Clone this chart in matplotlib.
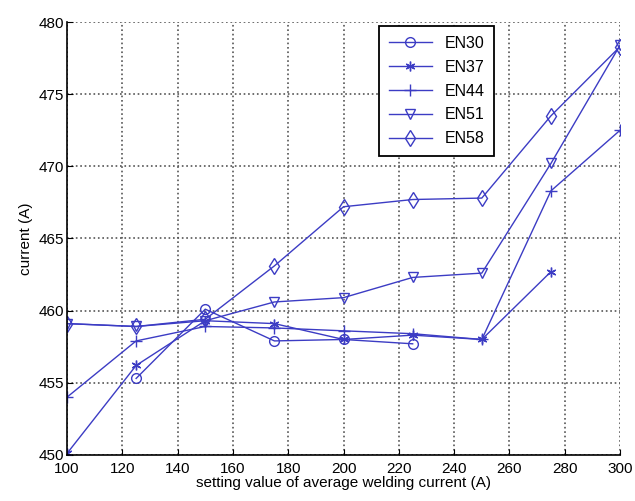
import matplotlib.pyplot as plt

plt.rcParams["font.family"] = ["Liberation Sans", "DejaVu Sans"]

x_all = [100, 125, 150, 175, 200, 225, 250, 275, 300]

en30_x = [125, 150, 175, 200, 225]
en30 = [455.3, 460.1, 457.9, 458.0, 457.7]

en37_x = [100, 125, 150, 175, 200, 225, 250, 275]
en37 = [450.1, 456.2, 459.3, 459.1, 458.0, 458.3, 458.0, 462.7]

en44_x = x_all
en44 = [454.0, 457.9, 458.9, 458.8, 458.6, 458.4, 458.0, 468.3, 472.5]

en51_x = x_all
en51 = [459.1, 458.9, 459.3, 460.6, 460.9, 462.3, 462.6, 470.2, 478.4]

en58_x = x_all
en58 = [459.1, 458.9, 459.4, 463.1, 467.2, 467.7, 467.8, 473.5, 478.3]

names = ['EN30', 'EN37', 'EN44', 'EN51', 'EN58']
col = '#3c3cc4'

fig = plt.figure(figsize=(6.35, 5.01), dpi=100)
ax = fig.add_axes([0.1055, 0.092, 0.871, 0.864])

ax.plot(en30_x, en30, color=col, lw=1, marker='o', ms=7, mfc='none', mec=col, label=names[0])
ax.plot(en37_x, en37, color=col, lw=1, marker=(6, 2, 0), ms=7, mec=col, label=names[1])
ax.plot(en44_x, en44, color=col, lw=1, marker='+', ms=8, mec=col, label=names[2])
ax.plot(en51_x, en51, color=col, lw=1, marker='v', ms=7, mfc='none', mec=col, label=names[3])
ax.plot(en58_x, en58, color=col, lw=1, marker='d', ms=8, mfc='none', mec=col, label=names[4])

ax.set_xlim(100, 300)
ax.set_ylim(450, 480)
ax.set_xticks(range(100, 301, 20))
ax.set_yticks(range(450, 481, 5))
ax.grid(True, linestyle=':', color='#555555', linewidth=1.2)
ax.spines['top'].set_visible(False)
ax.spines['right'].set_visible(False)
ax.spines['left'].set_linewidth(1.2)
ax.spines['bottom'].set_linewidth(1.2)
ax.tick_params(direction='in', length=4, labelsize=11)
ax.tick_params(axis='x', pad=5)
ax.tick_params(axis='y', pad=2)

ax.set_xlabel('setting value of average welding current (A)', fontsize=11, labelpad=0)
ax.set_ylabel('current (A)', fontsize=11, labelpad=4)

leg = ax.legend(loc='upper left', bbox_to_anchor=(0.564, 0.99), borderaxespad=0,
                fontsize=11.5, fancybox=False, framealpha=1, edgecolor='black',
                handlelength=2.7, borderpad=0.6, labelspacing=0.55)
leg.get_frame().set_linewidth(1.3)

fig.savefig('out.png', dpi=100)
